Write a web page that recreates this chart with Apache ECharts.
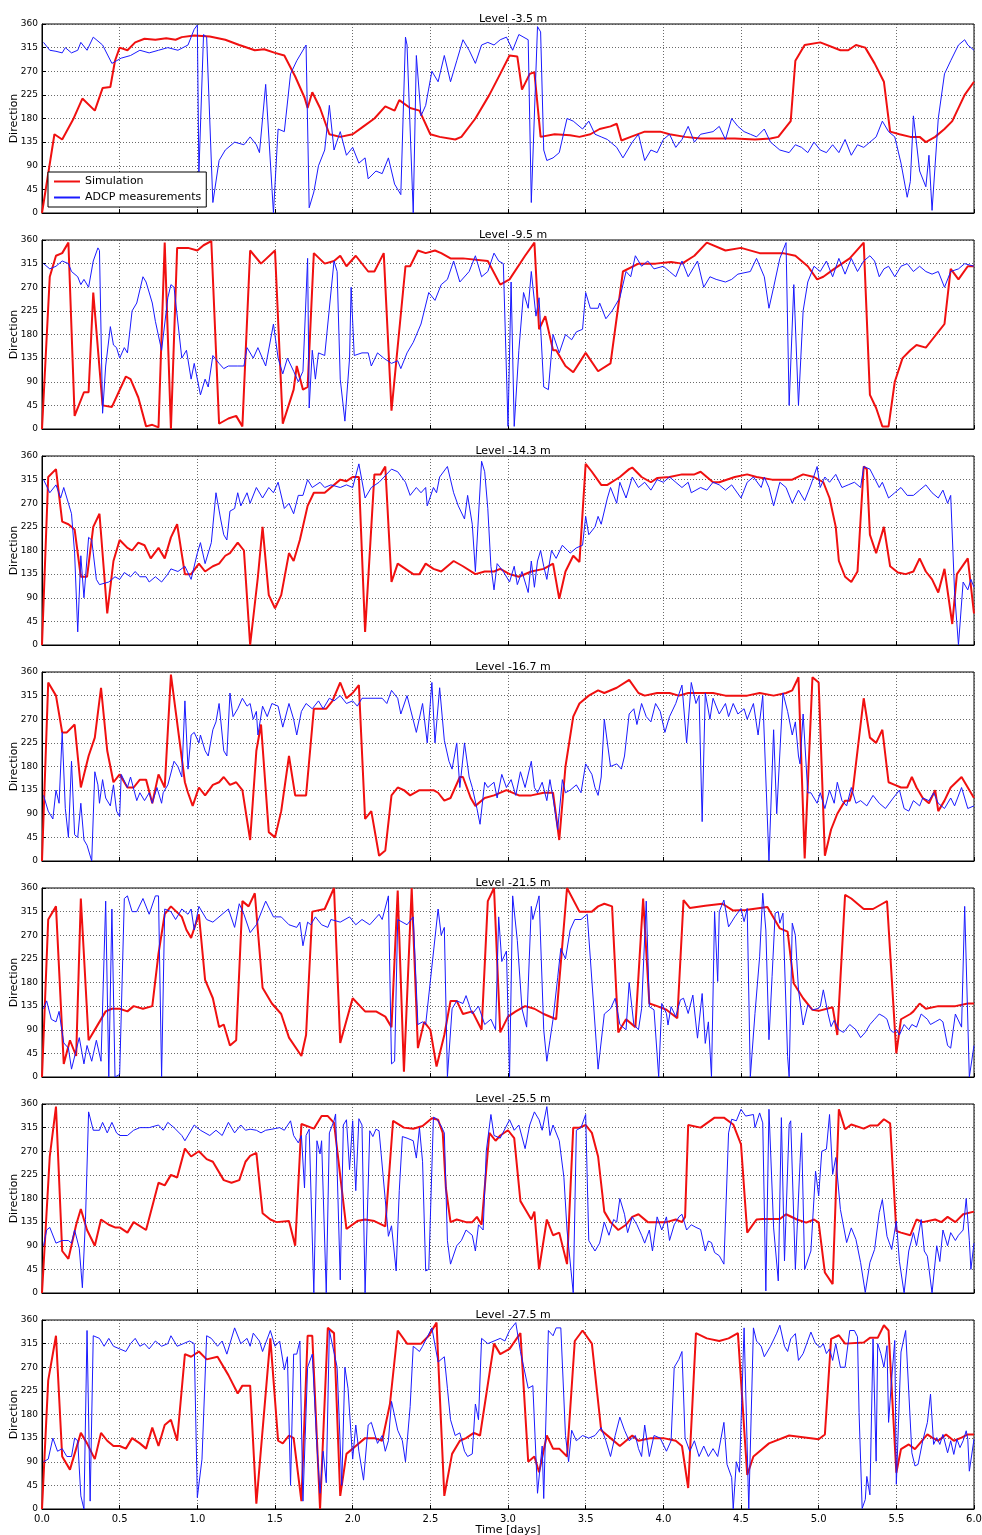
<!DOCTYPE html>
<html>
<head>
<meta charset="utf-8">
<script src="https://cdn.jsdelivr.net/npm/echarts@6/dist/echarts.min.js"></script>
<style>
  html, body { margin: 0; padding: 0; background: #fff; }
  #chart { width: 982px; height: 1535px; }
</style>
</head>
<body>
<div id="chart"></div>
<script>
// Current direction (degrees) at seven depth levels: model vs. ADCP, time in days.
const levels = ['Level -3.5 m', 'Level -9.5 m', 'Level -14.3 m', 'Level -16.7 m',
                'Level -21.5 m', 'Level -25.5 m', 'Level -27.5 m'];
const directionTicks = [0, 45, 90, 135, 180, 225, 270, 315, 360];
const timeTicks = [0, 0.5, 1, 1.5, 2, 2.5, 3, 3.5, 4, 4.5, 5, 5.5, 6];

// ---- Level -3.5 m ----
const sim35 = [[0,0],[0.08,150],[0.13,140],[0.2,178],[0.26,218],[0.34,195],[0.39,238],[0.44,240],[0.47,290],[0.5,315],[0.55,310],[0.6,325],[0.66,332],[0.73,330],[0.8,333],[0.86,330],[0.9,335],[0.98,338],[1.08,336],[1.18,330],[1.27,320],[1.37,310],[1.43,312],[1.5,305],[1.56,300],[1.63,260],[1.69,220],[1.71,200],[1.74,230],[1.79,200],[1.85,150],[1.92,145],[2.0,150],[2.07,165],[2.14,180],[2.21,203],[2.27,195],[2.3,215],[2.37,200],[2.43,195],[2.5,150],[2.56,145],[2.66,140],[2.7,145],[2.79,180],[2.88,225],[2.95,265],[3.01,300],[3.06,298],[3.09,235],[3.14,265],[3.17,268],[3.21,145],[3.3,150],[3.4,148],[3.46,145],[3.53,150],[3.59,160],[3.66,165],[3.7,170],[3.73,138],[3.79,145],[3.88,155],[3.98,155],[4.04,150],[4.14,145],[4.24,142],[4.37,142],[4.46,142],[4.59,140],[4.69,142],[4.74,145],[4.82,175],[4.85,290],[4.91,320],[5.01,325],[5.14,310],[5.19,310],[5.24,320],[5.3,315],[5.36,285],[5.42,250],[5.46,155],[5.52,150],[5.59,145],[5.65,145],[5.69,135],[5.75,145],[5.81,160],[5.86,175],[5.94,225],[6.0,250]];
const adcp35 = [[0.01,325],[0.05,310],[0.09,308],[0.13,305],[0.15,315],[0.19,305],[0.23,310],[0.25,325],[0.29,310],[0.33,335],[0.39,320],[0.45,285],[0.51,295],[0.57,300],[0.63,310],[0.69,305],[0.75,310],[0.81,315],[0.875,310],[0.94,320],[0.98,350],[1.0,358],[1.01,75],[1.04,340],[1.06,335],[1.1,20],[1.14,100],[1.18,120],[1.24,135],[1.3,130],[1.34,145],[1.38,130],[1.4,115],[1.44,245],[1.49,0],[1.52,160],[1.56,155],[1.6,265],[1.64,290],[1.7,320],[1.72,10],[1.75,40],[1.78,90],[1.82,120],[1.85,205],[1.88,120],[1.92,155],[1.96,110],[2.0,125],[2.04,95],[2.08,105],[2.1,65],[2.15,80],[2.19,75],[2.23,105],[2.27,55],[2.31,35],[2.34,335],[2.35,320],[2.39,0],[2.41,300],[2.44,185],[2.47,205],[2.51,270],[2.55,250],[2.59,300],[2.63,250],[2.67,290],[2.71,330],[2.75,310],[2.79,285],[2.83,320],[2.87,325],[2.91,320],[2.95,330],[2.99,335],[3.03,310],[3.07,340],[3.13,330],[3.15,20],[3.19,355],[3.21,345],[3.23,120],[3.25,100],[3.29,105],[3.33,115],[3.38,180],[3.42,175],[3.48,160],[3.52,175],[3.56,150],[3.6,145],[3.64,140],[3.7,125],[3.74,105],[3.8,135],[3.84,150],[3.88,100],[3.92,120],[3.96,115],[4.0,140],[4.04,150],[4.08,125],[4.12,140],[4.16,165],[4.2,135],[4.24,150],[4.32,155],[4.36,165],[4.4,140],[4.44,180],[4.48,165],[4.52,155],[4.56,150],[4.6,145],[4.65,160],[4.69,135],[4.75,120],[4.81,115],[4.85,130],[4.89,125],[4.93,115],[4.97,135],[5.01,120],[5.05,115],[5.09,130],[5.13,115],[5.17,140],[5.21,110],[5.25,130],[5.29,125],[5.33,135],[5.37,145],[5.41,175],[5.45,155],[5.49,145],[5.53,95],[5.57,30],[5.59,60],[5.61,185],[5.65,80],[5.69,50],[5.71,110],[5.73,5],[5.77,180],[5.81,265],[5.85,290],[5.9,320],[5.94,330],[5.96,320],[6.0,310]];

// ---- Level -9.5 m ----
const sim95 = [[0,0],[0.05,290],[0.09,330],[0.13,335],[0.17,355],[0.21,25],[0.27,70],[0.3,70],[0.33,260],[0.39,45],[0.45,42],[0.54,100],[0.57,95],[0.62,60],[0.67,5],[0.71,8],[0.75,3],[0.79,355],[0.83,0],[0.87,345],[0.94,345],[1.0,340],[1.04,350],[1.09,358],[1.14,10],[1.2,20],[1.25,25],[1.29,5],[1.34,340],[1.41,315],[1.5,340],[1.55,10],[1.62,75],[1.64,120],[1.68,75],[1.71,80],[1.75,335],[1.82,315],[1.88,320],[1.92,330],[1.96,310],[2.02,330],[2.1,300],[2.14,300],[2.2,335],[2.25,35],[2.34,310],[2.37,310],[2.42,340],[2.47,335],[2.53,340],[2.57,335],[2.63,325],[2.71,325],[2.87,320],[2.95,275],[3.01,285],[3.11,330],[3.17,355],[3.2,190],[3.24,215],[3.29,150],[3.31,150],[3.37,120],[3.42,108],[3.5,145],[3.58,110],[3.66,125],[3.74,300],[3.84,315],[3.95,315],[4.05,318],[4.12,315],[4.2,330],[4.28,355],[4.4,340],[4.5,345],[4.62,335],[4.77,335],[4.85,330],[4.93,310],[4.99,285],[5.03,290],[5.1,305],[5.2,325],[5.29,355],[5.33,65],[5.37,40],[5.41,5],[5.45,5],[5.49,90],[5.54,135],[5.59,150],[5.63,160],[5.69,155],[5.73,170],[5.77,185],[5.81,200],[5.85,305],[5.9,285],[5.96,310],[6.0,310]];
const adcp95 = [[0.01,315],[0.05,305],[0.09,310],[0.13,320],[0.17,315],[0.19,300],[0.23,290],[0.25,275],[0.27,285],[0.3,270],[0.33,320],[0.36,345],[0.37,340],[0.39,30],[0.41,120],[0.44,195],[0.46,160],[0.48,155],[0.5,135],[0.53,155],[0.55,145],[0.58,225],[0.61,240],[0.65,290],[0.67,280],[0.71,240],[0.73,205],[0.77,150],[0.81,250],[0.83,275],[0.85,270],[0.9,135],[0.93,150],[0.96,95],[0.98,125],[1.02,65],[1.05,95],[1.07,80],[1.1,140],[1.14,125],[1.17,115],[1.2,120],[1.26,120],[1.3,120],[1.32,155],[1.36,135],[1.39,155],[1.44,120],[1.49,200],[1.52,135],[1.55,105],[1.58,135],[1.62,110],[1.65,90],[1.68,110],[1.69,180],[1.71,325],[1.72,40],[1.74,150],[1.76,95],[1.78,145],[1.82,140],[1.88,320],[1.9,300],[1.92,95],[1.95,15],[1.98,135],[1.99,270],[2.01,140],[2.06,145],[2.1,145],[2.12,120],[2.16,145],[2.2,135],[2.25,125],[2.29,130],[2.31,115],[2.35,145],[2.39,165],[2.44,200],[2.49,260],[2.53,245],[2.57,275],[2.61,285],[2.65,320],[2.69,280],[2.75,300],[2.79,330],[2.83,290],[2.87,300],[2.91,335],[2.94,320],[2.97,315],[3.0,5],[3.02,280],[3.04,5],[3.07,150],[3.1,260],[3.13,230],[3.15,300],[3.18,215],[3.2,250],[3.23,80],[3.26,75],[3.29,180],[3.33,145],[3.37,180],[3.41,170],[3.44,185],[3.48,190],[3.5,260],[3.53,230],[3.58,230],[3.59,240],[3.63,210],[3.67,225],[3.72,250],[3.76,300],[3.79,290],[3.82,330],[3.86,310],[3.9,320],[3.94,305],[4.0,310],[4.04,300],[4.08,290],[4.12,320],[4.16,290],[4.2,310],[4.22,320],[4.26,270],[4.3,290],[4.34,285],[4.4,280],[4.44,285],[4.48,295],[4.56,300],[4.6,325],[4.65,290],[4.68,230],[4.71,270],[4.75,325],[4.79,355],[4.81,45],[4.84,275],[4.87,45],[4.9,225],[4.93,280],[4.97,310],[5.01,300],[5.05,320],[5.09,290],[5.13,325],[5.17,295],[5.21,325],[5.25,300],[5.29,320],[5.33,330],[5.36,320],[5.39,290],[5.42,305],[5.45,310],[5.49,290],[5.53,310],[5.57,315],[5.61,300],[5.65,310],[5.69,300],[5.73,295],[5.77,300],[5.81,270],[5.85,300],[5.9,305],[5.94,315],[6.0,310]];

// ---- Level -14.3 m ----
const sim143 = [[0,0],[0.04,320],[0.09,335],[0.13,235],[0.17,230],[0.21,220],[0.25,130],[0.29,130],[0.33,225],[0.37,250],[0.42,60],[0.46,160],[0.5,200],[0.55,185],[0.58,180],[0.62,195],[0.66,190],[0.7,165],[0.75,185],[0.79,165],[0.83,205],[0.87,230],[0.92,135],[0.96,135],[1.01,155],[1.05,140],[1.1,150],[1.14,155],[1.18,170],[1.21,175],[1.26,195],[1.3,180],[1.34,0],[1.39,130],[1.42,225],[1.46,95],[1.5,70],[1.54,95],[1.59,175],[1.62,160],[1.66,200],[1.71,265],[1.75,290],[1.82,290],[1.86,300],[1.92,315],[1.96,312],[2.0,320],[2.04,320],[2.08,25],[2.14,325],[2.18,325],[2.21,340],[2.25,120],[2.29,155],[2.34,145],[2.39,135],[2.43,135],[2.47,155],[2.52,145],[2.57,140],[2.65,160],[2.71,150],[2.79,135],[2.85,140],[2.91,140],[2.95,145],[3.01,135],[3.07,130],[3.15,140],[3.23,145],[3.29,155],[3.33,88],[3.37,140],[3.42,170],[3.46,158],[3.5,345],[3.54,330],[3.6,305],[3.64,305],[3.72,320],[3.78,335],[3.8,338],[3.86,320],[3.92,310],[3.96,318],[4.04,320],[4.12,325],[4.2,325],[4.24,330],[4.32,310],[4.36,310],[4.46,320],[4.54,325],[4.6,320],[4.7,315],[4.83,315],[4.9,325],[4.97,320],[5.03,310],[5.07,280],[5.11,225],[5.13,160],[5.17,130],[5.21,120],[5.25,140],[5.29,340],[5.31,335],[5.33,210],[5.37,175],[5.42,225],[5.46,150],[5.51,138],[5.56,135],[5.61,140],[5.65,165],[5.69,140],[5.73,125],[5.77,100],[5.81,145],[5.86,40],[5.89,135],[5.96,165],[6.0,60]];
const adcp143 = [[0.01,315],[0.05,290],[0.09,305],[0.12,280],[0.14,300],[0.17,270],[0.19,250],[0.21,175],[0.23,25],[0.25,170],[0.27,90],[0.3,205],[0.32,200],[0.35,125],[0.37,115],[0.43,120],[0.47,130],[0.5,125],[0.53,138],[0.57,130],[0.6,140],[0.63,130],[0.67,130],[0.69,120],[0.73,130],[0.77,120],[0.81,135],[0.83,145],[0.875,140],[0.92,150],[0.96,125],[1.0,175],[1.02,195],[1.05,155],[1.09,195],[1.12,290],[1.15,240],[1.17,210],[1.19,200],[1.21,255],[1.24,260],[1.26,290],[1.28,265],[1.32,290],[1.34,270],[1.38,300],[1.42,280],[1.46,300],[1.49,290],[1.52,310],[1.56,260],[1.59,270],[1.62,250],[1.65,285],[1.68,285],[1.71,315],[1.74,300],[1.79,310],[1.82,300],[1.86,305],[1.92,300],[1.96,305],[2.0,300],[2.04,345],[2.08,280],[2.12,300],[2.17,310],[2.25,335],[2.29,330],[2.34,310],[2.37,285],[2.41,300],[2.44,290],[2.47,300],[2.48,265],[2.52,300],[2.54,290],[2.56,320],[2.61,340],[2.65,290],[2.68,265],[2.72,240],[2.74,285],[2.77,230],[2.79,140],[2.83,350],[2.85,330],[2.87,260],[2.89,150],[2.91,105],[2.93,155],[2.97,140],[3.01,120],[3.04,150],[3.06,115],[3.09,140],[3.13,100],[3.15,160],[3.17,110],[3.19,160],[3.21,180],[3.23,150],[3.25,125],[3.28,180],[3.31,165],[3.35,190],[3.4,175],[3.44,185],[3.48,190],[3.5,245],[3.52,210],[3.56,225],[3.58,245],[3.6,230],[3.64,280],[3.66,300],[3.7,270],[3.72,310],[3.76,280],[3.8,320],[3.84,300],[3.88,310],[3.92,295],[3.96,315],[4.0,310],[4.04,320],[4.08,310],[4.12,300],[4.16,310],[4.18,290],[4.24,300],[4.28,295],[4.32,310],[4.36,305],[4.4,295],[4.44,305],[4.5,280],[4.54,310],[4.58,320],[4.63,300],[4.65,320],[4.68,300],[4.71,265],[4.75,310],[4.79,300],[4.83,270],[4.87,295],[4.91,275],[4.95,305],[4.99,340],[5.01,300],[5.04,320],[5.07,310],[5.11,325],[5.15,300],[5.19,305],[5.23,310],[5.27,300],[5.29,340],[5.33,335],[5.39,300],[5.41,310],[5.45,280],[5.49,290],[5.53,300],[5.57,285],[5.61,285],[5.65,295],[5.69,305],[5.73,290],[5.77,280],[5.8,295],[5.83,270],[5.85,285],[5.875,100],[5.9,0],[5.93,120],[5.96,105],[5.98,125],[6.0,110]];

// ---- Level -16.7 m ----
const sim167 = [[0,0],[0.04,340],[0.09,315],[0.13,245],[0.16,245],[0.21,260],[0.25,140],[0.3,200],[0.34,235],[0.38,330],[0.42,210],[0.46,150],[0.5,165],[0.55,140],[0.59,140],[0.63,155],[0.67,155],[0.71,110],[0.75,165],[0.79,140],[0.83,355],[0.92,150],[0.94,130],[0.97,105],[1.01,140],[1.05,125],[1.1,145],[1.14,150],[1.17,160],[1.21,145],[1.25,150],[1.29,135],[1.34,40],[1.38,210],[1.41,260],[1.46,55],[1.5,45],[1.54,95],[1.59,200],[1.63,125],[1.7,125],[1.75,290],[1.83,290],[1.87,305],[1.92,340],[1.96,310],[2.0,320],[2.04,335],[2.08,80],[2.12,95],[2.17,10],[2.21,20],[2.25,125],[2.29,140],[2.33,135],[2.37,125],[2.43,135],[2.47,135],[2.52,135],[2.55,130],[2.59,115],[2.63,120],[2.69,160],[2.71,160],[2.76,120],[2.79,105],[2.85,120],[2.91,125],[2.99,135],[3.07,125],[3.15,125],[3.23,130],[3.29,130],[3.33,40],[3.37,180],[3.42,275],[3.46,300],[3.52,315],[3.58,325],[3.62,320],[3.7,330],[3.78,345],[3.84,320],[3.88,315],[3.96,320],[4.04,320],[4.1,315],[4.16,320],[4.32,320],[4.4,315],[4.54,315],[4.62,320],[4.71,315],[4.79,320],[4.83,325],[4.87,350],[4.91,5],[4.96,350],[5.0,340],[5.04,10],[5.08,60],[5.12,90],[5.17,115],[5.2,115],[5.22,135],[5.29,310],[5.33,235],[5.37,225],[5.41,250],[5.45,150],[5.49,145],[5.53,140],[5.57,140],[5.6,160],[5.63,140],[5.67,120],[5.71,110],[5.75,135],[5.77,95],[5.81,115],[5.85,140],[5.92,160],[6.0,120]];
const adcp167 = [[0.01,125],[0.04,95],[0.07,80],[0.09,135],[0.11,110],[0.13,245],[0.15,100],[0.17,45],[0.19,190],[0.21,50],[0.23,45],[0.25,110],[0.27,40],[0.29,30],[0.32,0],[0.34,170],[0.36,145],[0.37,110],[0.39,155],[0.41,120],[0.44,105],[0.46,145],[0.48,95],[0.5,85],[0.51,165],[0.55,140],[0.57,160],[0.61,115],[0.63,130],[0.66,115],[0.69,130],[0.71,110],[0.74,140],[0.77,110],[0.78,130],[0.81,145],[0.85,190],[0.875,180],[0.9,160],[0.92,305],[0.94,175],[0.96,240],[0.98,245],[1.01,225],[1.02,240],[1.05,210],[1.07,200],[1.1,250],[1.12,265],[1.14,300],[1.17,210],[1.19,200],[1.21,320],[1.23,275],[1.26,290],[1.29,310],[1.32,295],[1.34,300],[1.36,270],[1.38,285],[1.39,240],[1.42,295],[1.45,275],[1.48,300],[1.52,295],[1.55,255],[1.59,300],[1.62,270],[1.64,240],[1.67,285],[1.7,300],[1.74,290],[1.78,305],[1.81,290],[1.85,310],[1.88,305],[1.92,315],[1.96,300],[2.0,305],[2.03,295],[2.06,310],[2.15,310],[2.19,310],[2.22,300],[2.25,325],[2.29,310],[2.31,280],[2.35,315],[2.41,245],[2.45,300],[2.48,225],[2.51,340],[2.53,225],[2.56,330],[2.59,230],[2.62,190],[2.64,175],[2.67,225],[2.69,140],[2.72,225],[2.75,160],[2.77,140],[2.8,100],[2.82,70],[2.85,150],[2.87,140],[2.91,150],[2.93,120],[2.96,165],[2.99,140],[3.02,155],[3.05,125],[3.08,170],[3.11,140],[3.15,190],[3.17,140],[3.19,130],[3.22,150],[3.25,115],[3.27,155],[3.29,120],[3.32,60],[3.35,155],[3.37,130],[3.4,135],[3.44,145],[3.47,130],[3.5,185],[3.54,165],[3.56,140],[3.58,125],[3.6,160],[3.62,270],[3.66,180],[3.7,185],[3.73,175],[3.75,200],[3.78,280],[3.81,290],[3.83,260],[3.86,300],[3.89,275],[3.92,265],[3.95,300],[3.98,285],[4.01,245],[4.04,275],[4.08,300],[4.12,335],[4.15,225],[4.18,340],[4.21,300],[4.23,315],[4.25,75],[4.27,320],[4.3,270],[4.32,310],[4.36,280],[4.4,300],[4.42,275],[4.45,300],[4.48,280],[4.52,290],[4.54,270],[4.58,300],[4.61,240],[4.64,315],[4.68,0],[4.71,250],[4.73,90],[4.77,320],[4.8,285],[4.83,240],[4.85,265],[4.87,200],[4.88,185],[4.9,280],[4.93,130],[4.95,130],[4.99,110],[5.01,130],[5.04,100],[5.07,135],[5.1,110],[5.12,150],[5.15,115],[5.18,105],[5.21,140],[5.24,110],[5.27,115],[5.31,105],[5.35,125],[5.39,110],[5.43,100],[5.48,120],[5.52,135],[5.55,100],[5.58,95],[5.61,115],[5.65,105],[5.67,120],[5.71,115],[5.74,130],[5.77,110],[5.81,100],[5.85,120],[5.875,105],[5.92,140],[5.96,100],[6.0,105]];

// ---- Level -21.5 m ----
const sim215 = [[0,0],[0.04,300],[0.09,325],[0.14,25],[0.18,70],[0.22,40],[0.25,340],[0.3,70],[0.35,95],[0.41,125],[0.45,130],[0.5,130],[0.55,125],[0.59,135],[0.65,130],[0.71,135],[0.75,235],[0.79,310],[0.83,325],[0.9,305],[0.93,280],[0.96,265],[1.01,310],[1.05,185],[1.1,150],[1.14,95],[1.17,100],[1.21,60],[1.25,70],[1.29,335],[1.33,325],[1.37,350],[1.42,170],[1.48,140],[1.54,120],[1.59,75],[1.67,40],[1.7,80],[1.74,315],[1.82,320],[1.88,360],[1.92,65],[2.0,150],[2.08,125],[2.15,125],[2.21,115],[2.25,95],[2.29,355],[2.33,10],[2.38,360],[2.42,55],[2.46,105],[2.5,90],[2.54,20],[2.59,80],[2.63,145],[2.67,145],[2.71,120],[2.77,125],[2.83,90],[2.87,335],[2.91,360],[2.95,85],[3.0,115],[3.05,125],[3.11,135],[3.17,130],[3.23,120],[3.31,110],[3.38,360],[3.46,315],[3.54,315],[3.58,325],[3.62,330],[3.67,325],[3.71,85],[3.76,110],[3.82,95],[3.87,340],[3.91,140],[3.96,135],[4.02,128],[4.09,112],[4.13,337],[4.17,322],[4.27,326],[4.38,330],[4.45,317],[4.53,318],[4.67,324],[4.75,283],[4.8,277],[4.84,178],[4.9,150],[4.96,128],[5.0,126],[5.09,133],[5.12,80],[5.17,347],[5.21,340],[5.29,320],[5.35,320],[5.41,330],[5.44,335],[5.5,45],[5.53,110],[5.59,120],[5.61,125],[5.65,140],[5.69,130],[5.77,135],[5.88,135],[5.96,140],[6.0,140]];
const adcp215 = [[0.01,130],[0.03,145],[0.06,110],[0.09,105],[0.11,125],[0.14,65],[0.17,55],[0.19,15],[0.24,75],[0.27,25],[0.29,60],[0.32,30],[0.35,70],[0.38,30],[0.41,335],[0.43,0],[0.45,320],[0.47,0],[0.5,5],[0.53,340],[0.55,345],[0.58,315],[0.61,315],[0.65,340],[0.69,310],[0.73,345],[0.75,345],[0.77,0],[0.79,320],[0.83,315],[0.86,300],[0.9,320],[0.94,310],[0.96,320],[0.98,280],[1.01,325],[1.06,300],[1.1,295],[1.16,310],[1.2,320],[1.24,285],[1.27,330],[1.3,310],[1.34,275],[1.38,290],[1.44,335],[1.49,305],[1.54,305],[1.59,290],[1.64,285],[1.66,295],[1.68,250],[1.71,295],[1.73,290],[1.76,305],[1.8,290],[1.84,285],[1.86,300],[1.92,295],[1.98,305],[2.02,290],[2.06,300],[2.11,290],[2.17,310],[2.19,300],[2.23,345],[2.25,25],[2.27,30],[2.29,300],[2.35,290],[2.39,305],[2.42,100],[2.45,105],[2.47,100],[2.55,320],[2.57,270],[2.59,285],[2.61,0],[2.64,130],[2.67,145],[2.71,140],[2.73,155],[2.77,120],[2.81,135],[2.85,100],[2.89,110],[2.92,90],[2.94,305],[2.96,220],[2.99,240],[3.01,0],[3.03,345],[3.06,260],[3.09,130],[3.12,95],[3.15,325],[3.16,300],[3.2,345],[3.23,90],[3.25,30],[3.27,70],[3.29,110],[3.32,190],[3.34,245],[3.37,225],[3.4,280],[3.43,300],[3.47,300],[3.51,310],[3.58,15],[3.62,120],[3.66,130],[3.69,150],[3.72,100],[3.76,90],[3.78,180],[3.81,100],[3.84,90],[3.86,130],[3.89,335],[3.91,134],[3.94,128],[3.97,0],[3.99,140],[4.02,121],[4.03,99],[4.05,134],[4.08,115],[4.11,147],[4.13,150],[4.16,121],[4.19,156],[4.22,74],[4.25,159],[4.27,64],[4.29,105],[4.31,0],[4.33,315],[4.35,182],[4.36,315],[4.39,337],[4.42,286],[4.46,305],[4.5,321],[4.52,296],[4.54,321],[4.56,0],[4.59,121],[4.62,229],[4.64,350],[4.66,280],[4.68,71],[4.7,191],[4.72,312],[4.74,315],[4.75,293],[4.77,312],[4.8,39],[4.81,0],[4.83,293],[4.85,270],[4.87,166],[4.9,99],[4.93,137],[4.96,128],[4.99,130],[5.01,134],[5.03,166],[5.06,121],[5.08,96],[5.1,108],[5.13,90],[5.16,85],[5.2,100],[5.24,90],[5.27,75],[5.3,85],[5.33,100],[5.36,110],[5.39,120],[5.42,115],[5.44,110],[5.46,90],[5.48,85],[5.5,90],[5.52,80],[5.55,100],[5.58,90],[5.6,100],[5.63,95],[5.66,120],[5.7,110],[5.72,100],[5.75,105],[5.78,110],[5.8,105],[5.83,60],[5.85,55],[5.88,120],[5.92,95],[5.94,325],[5.97,0],[6.0,60]];

// ---- Level -25.5 m ----
const sim255 = [[0,0],[0.05,260],[0.09,355],[0.13,80],[0.17,65],[0.22,130],[0.25,160],[0.29,120],[0.34,90],[0.38,140],[0.43,130],[0.47,125],[0.5,125],[0.55,115],[0.59,135],[0.67,120],[0.75,210],[0.79,205],[0.83,225],[0.87,220],[0.92,275],[0.96,260],[1.01,270],[1.06,255],[1.1,250],[1.17,215],[1.22,210],[1.27,215],[1.31,250],[1.34,261],[1.38,267],[1.42,152],[1.47,140],[1.51,135],[1.59,137],[1.63,90],[1.67,322],[1.75,313],[1.8,337],[1.84,337],[1.88,324],[1.92,223],[1.96,122],[2.03,137],[2.08,140],[2.14,137],[2.21,127],[2.26,328],[2.33,315],[2.39,313],[2.45,318],[2.51,333],[2.55,330],[2.58,305],[2.6,200],[2.63,135],[2.67,140],[2.73,135],[2.77,135],[2.8,145],[2.83,130],[2.88,305],[2.92,290],[2.95,300],[3.0,310],[3.04,295],[3.08,175],[3.11,160],[3.15,140],[3.17,155],[3.2,45],[3.25,140],[3.29,110],[3.33,115],[3.38,55],[3.42,315],[3.46,315],[3.5,320],[3.54,305],[3.58,260],[3.62,155],[3.66,135],[3.71,120],[3.76,130],[3.8,145],[3.84,150],[3.9,135],[3.96,135],[4.02,135],[4.08,140],[4.12,135],[4.14,145],[4.16,320],[4.24,315],[4.33,334],[4.39,334],[4.45,321],[4.5,283],[4.54,115],[4.6,140],[4.64,141],[4.75,141],[4.79,150],[4.86,140],[4.92,134],[4.97,140],[5.0,134],[5.04,39],[5.09,17],[5.13,350],[5.17,312],[5.21,321],[5.29,313],[5.33,319],[5.38,319],[5.42,331],[5.46,323],[5.5,118],[5.53,115],[5.59,110],[5.63,140],[5.67,135],[5.75,140],[5.79,135],[5.83,145],[5.88,135],[5.93,150],[6.0,155]];
const adcp255 = [[0.01,90],[0.03,120],[0.05,125],[0.09,95],[0.13,100],[0.17,100],[0.19,95],[0.21,120],[0.24,85],[0.26,10],[0.28,140],[0.3,345],[0.33,310],[0.37,310],[0.39,325],[0.42,305],[0.45,325],[0.48,305],[0.5,300],[0.55,300],[0.59,310],[0.63,315],[0.69,315],[0.75,320],[0.78,310],[0.81,325],[0.85,315],[0.9,300],[0.92,290],[0.98,320],[1.02,310],[1.08,300],[1.12,310],[1.16,300],[1.2,325],[1.24,305],[1.28,320],[1.31,310],[1.34,312],[1.38,310],[1.41,305],[1.44,310],[1.48,312],[1.53,315],[1.56,310],[1.6,328],[1.62,300],[1.65,286],[1.67,300],[1.69,200],[1.7,300],[1.72,312],[1.75,0],[1.77,290],[1.79,265],[1.8,290],[1.83,0],[1.85,305],[1.88,328],[1.89,341],[1.92,25],[1.94,320],[1.96,330],[1.98,235],[2.0,328],[2.02,195],[2.04,332],[2.06,320],[2.08,0],[2.11,309],[2.13,298],[2.15,312],[2.17,309],[2.21,177],[2.23,108],[2.25,128],[2.28,42],[2.3,195],[2.32,298],[2.35,295],[2.39,290],[2.41,257],[2.43,315],[2.45,250],[2.47,42],[2.49,45],[2.52,335],[2.54,332],[2.57,318],[2.59,305],[2.61,100],[2.63,55],[2.67,90],[2.7,100],[2.73,120],[2.77,110],[2.79,80],[2.81,130],[2.84,120],[2.86,270],[2.89,340],[2.91,300],[2.95,295],[3.01,330],[3.04,310],[3.07,320],[3.11,275],[3.14,320],[3.17,345],[3.2,330],[3.22,310],[3.25,355],[3.27,300],[3.29,320],[3.33,290],[3.36,220],[3.38,120],[3.42,0],[3.44,310],[3.47,315],[3.5,340],[3.52,100],[3.56,80],[3.59,95],[3.62,135],[3.65,110],[3.68,140],[3.7,135],[3.72,180],[3.75,150],[3.77,115],[3.8,145],[3.83,130],[3.86,110],[3.88,95],[3.91,120],[3.93,80],[3.96,145],[3.99,120],[4.02,145],[4.04,100],[4.07,130],[4.1,145],[4.12,150],[4.15,120],[4.18,130],[4.21,125],[4.24,121],[4.27,80],[4.29,99],[4.31,96],[4.33,77],[4.36,71],[4.39,55],[4.42,305],[4.44,331],[4.47,328],[4.5,350],[4.53,337],[4.58,340],[4.59,315],[4.62,343],[4.64,324],[4.66,4],[4.68,350],[4.71,124],[4.74,23],[4.76,334],[4.78,61],[4.81,321],[4.82,328],[4.85,45],[4.88,248],[4.89,305],[4.91,45],[4.95,80],[4.98,232],[5.0,185],[5.02,270],[5.05,274],[5.07,340],[5.09,226],[5.11,258],[5.14,159],[5.18,96],[5.21,124],[5.24,102],[5.27,58],[5.3,1],[5.33,58],[5.36,83],[5.39,153],[5.41,178],[5.44,108],[5.47,83],[5.5,137],[5.52,60],[5.55,0],[5.58,80],[5.61,115],[5.63,90],[5.66,140],[5.68,80],[5.7,70],[5.73,0],[5.76,90],[5.78,60],[5.8,120],[5.83,90],[5.85,115],[5.88,100],[5.9,110],[5.93,120],[5.95,180],[5.97,100],[5.98,45],[6.0,95]];

// ---- Level -27.5 m ----
const sim275 = [[0,0],[0.04,245],[0.09,330],[0.13,100],[0.18,75],[0.22,115],[0.25,145],[0.29,125],[0.34,95],[0.38,145],[0.42,130],[0.46,120],[0.5,120],[0.54,115],[0.58,135],[0.63,125],[0.67,115],[0.71,155],[0.75,120],[0.79,160],[0.83,170],[0.87,130],[0.92,295],[0.96,290],[1.01,300],[1.06,285],[1.13,290],[1.2,255],[1.26,220],[1.29,235],[1.34,235],[1.38,10],[1.47,325],[1.52,130],[1.55,125],[1.59,140],[1.62,135],[1.67,15],[1.71,330],[1.74,330],[1.79,0],[1.84,345],[1.88,335],[1.92,25],[1.96,105],[2.02,120],[2.08,135],[2.14,135],[2.19,130],[2.24,200],[2.29,340],[2.35,315],[2.44,315],[2.49,330],[2.54,355],[2.59,25],[2.64,105],[2.69,130],[2.73,135],[2.78,145],[2.82,140],[2.91,315],[2.95,295],[3.01,305],[3.08,335],[3.13,90],[3.17,100],[3.2,70],[3.25,140],[3.29,115],[3.33,115],[3.38,100],[3.43,320],[3.48,340],[3.54,315],[3.6,150],[3.66,135],[3.72,120],[3.76,130],[3.8,140],[3.84,130],[3.92,135],[4.0,135],[4.08,130],[4.12,120],[4.16,40],[4.21,335],[4.28,325],[4.36,320],[4.42,325],[4.48,335],[4.54,65],[4.58,100],[4.62,110],[4.68,125],[4.81,140],[5.0,133],[5.04,142],[5.08,324],[5.13,331],[5.17,315],[5.29,317],[5.33,326],[5.38,326],[5.42,350],[5.45,340],[5.5,69],[5.53,114],[5.58,123],[5.62,114],[5.7,142],[5.73,136],[5.77,130],[5.82,142],[5.87,130],[5.92,136],[5.96,142],[6.0,142]];
const adcp275 = [[0.01,90],[0.04,95],[0.07,135],[0.1,110],[0.13,115],[0.16,100],[0.19,100],[0.21,135],[0.23,130],[0.25,25],[0.27,0],[0.29,340],[0.31,15],[0.33,330],[0.37,325],[0.4,310],[0.43,325],[0.46,310],[0.5,305],[0.54,300],[0.57,315],[0.6,325],[0.63,310],[0.66,315],[0.69,305],[0.73,320],[0.77,310],[0.81,315],[0.83,330],[0.87,310],[0.91,315],[0.95,320],[0.98,315],[1.0,22],[1.03,95],[1.06,330],[1.09,325],[1.13,310],[1.16,320],[1.19,295],[1.24,345],[1.28,315],[1.32,325],[1.34,310],[1.36,335],[1.4,320],[1.42,300],[1.47,340],[1.5,310],[1.53,320],[1.56,265],[1.58,290],[1.6,45],[1.62,295],[1.64,295],[1.66,320],[1.68,15],[1.71,270],[1.74,295],[1.77,120],[1.79,30],[1.81,110],[1.83,50],[1.85,340],[1.9,270],[1.93,45],[1.95,270],[1.97,230],[2.0,95],[2.02,160],[2.04,110],[2.07,55],[2.1,160],[2.12,165],[2.16,125],[2.19,140],[2.21,110],[2.23,130],[2.25,205],[2.29,150],[2.32,130],[2.34,90],[2.37,195],[2.39,310],[2.43,300],[2.45,310],[2.51,345],[2.55,280],[2.59,290],[2.61,230],[2.63,170],[2.66,140],[2.69,145],[2.72,110],[2.74,100],[2.77,105],[2.79,200],[2.81,170],[2.83,325],[2.87,315],[2.91,320],[2.95,325],[2.98,320],[3.01,340],[3.05,355],[3.08,300],[3.13,230],[3.16,235],[3.19,30],[3.22,120],[3.23,20],[3.26,340],[3.29,330],[3.31,345],[3.34,345],[3.37,140],[3.39,90],[3.41,150],[3.44,130],[3.48,140],[3.52,135],[3.56,140],[3.6,155],[3.63,130],[3.66,100],[3.69,140],[3.72,175],[3.75,150],[3.78,130],[3.82,140],[3.84,115],[3.86,100],[3.88,160],[3.91,100],[3.94,140],[3.98,135],[4.02,110],[4.05,130],[4.07,270],[4.1,285],[4.12,300],[4.14,135],[4.17,110],[4.2,130],[4.23,100],[4.26,120],[4.29,100],[4.32,115],[4.35,100],[4.39,165],[4.41,85],[4.44,60],[4.45,0],[4.47,90],[4.49,70],[4.52,345],[4.55,0],[4.58,345],[4.6,320],[4.63,310],[4.65,290],[4.69,310],[4.73,335],[4.75,350],[4.78,310],[4.8,300],[4.82,324],[4.85,334],[4.87,283],[4.9,296],[4.95,337],[4.98,315],[5.01,308],[5.03,315],[5.05,296],[5.07,305],[5.09,283],[5.11,315],[5.14,270],[5.17,270],[5.2,340],[5.23,340],[5.25,328],[5.26,184],[5.28,1],[5.3,18],[5.31,62],[5.33,27],[5.35,324],[5.37,91],[5.38,315],[5.4,296],[5.42,270],[5.44,311],[5.45,165],[5.47,248],[5.49,321],[5.5,47],[5.53,299],[5.56,340],[5.57,343],[5.6,107],[5.62,82],[5.64,85],[5.67,130],[5.7,165],[5.72,219],[5.74,123],[5.76,136],[5.78,123],[5.8,142],[5.83,107],[5.85,130],[5.87,104],[5.89,133],[5.91,117],[5.93,130],[5.95,149],[5.96,133],[5.97,72],[6.0,133]];

const simulation = [sim35, sim95, sim143, sim167, sim215, sim255, sim275];
const measured = [adcp35, adcp95, adcp143, adcp167, adcp215, adcp255, adcp275];

const FONT = 'DejaVu Sans';
const PLOT_LEFT = 42, PLOT_RIGHT = 8, PLOT_H = 189, FIRST_TOP = 24, STEP = 216;

const grids = [], xAxes = [], yAxes = [], series = [], titles = [];
levels.forEach((name, i) => {
  const top = FIRST_TOP + i * STEP;
  const last = i === levels.length - 1;
  grids.push({ left: PLOT_LEFT, right: PLOT_RIGHT, top: top, height: PLOT_H,
               containLabel: false, outerBoundsMode: 'none',
               show: true, borderColor: '#000', borderWidth: 1, backgroundColor: '#fff' });
  titles.push({ text: name, left: PLOT_LEFT + (982 - PLOT_LEFT - PLOT_RIGHT) / 2, top: top - 15,
                textAlign: 'center',
                textStyle: { fontFamily: FONT, fontSize: 11, fontWeight: 'normal', color: '#000' } });
  xAxes.push({
    type: 'value', gridIndex: i, min: timeTicks[0], max: timeTicks[timeTicks.length - 1], interval: 0.5,
    axisLine: { show: true, onZero: false, lineStyle: { color: '#000', width: 1 } },
    axisTick: { show: true, inside: true, length: 4, lineStyle: { color: '#000' } },
    axisLabel: { show: last, fontFamily: FONT, fontSize: 10, color: '#000', margin: 5,
                 formatter: v => v.toFixed(1) },
    splitLine: { show: true, lineStyle: { color: '#444', type: [1, 2], width: 0.8 } },
    name: last ? 'Time [days]' : '', nameLocation: 'middle', nameGap: 16, nameMoveOverlap: false,
    nameTextStyle: { fontFamily: FONT, fontSize: 11, color: '#000', verticalAlign: 'top' }
  });
  yAxes.push({
    type: 'value', gridIndex: i, min: directionTicks[0], max: directionTicks[directionTicks.length - 1], interval: 45,
    axisLine: { show: true, lineStyle: { color: '#000', width: 1 } },
    axisTick: { show: true, inside: true, length: 4, lineStyle: { color: '#000' } },
    axisLabel: { fontFamily: FONT, fontSize: 9, color: '#000', margin: 4 },
    splitLine: { show: true, lineStyle: { color: '#444', type: [1, 2], width: 0.8 } },
    name: 'Direction', nameLocation: 'middle', nameGap: 22, nameRotate: 90, nameMoveOverlap: false,
    nameTextStyle: { fontFamily: FONT, fontSize: 11, color: '#000' }
  });
  series.push({
    name: 'Simulation', type: 'line', xAxisIndex: i, yAxisIndex: i, data: simulation[i],
    showSymbol: false, symbol: 'none', animation: false, z: 2,
    lineStyle: { color: '#f01010', width: 2 }, itemStyle: { color: '#f01010' }
  });
  series.push({
    name: 'ADCP measurements', type: 'line', xAxisIndex: i, yAxisIndex: i, data: measured[i],
    showSymbol: false, symbol: 'none', animation: false, z: 3,
    lineStyle: { color: '#1a1aff', width: 1 }, itemStyle: { color: '#1a1aff' }
  });
});

const chart = echarts.init(document.getElementById('chart'), null, { renderer: 'canvas' });
chart.setOption({
  animation: false,
  backgroundColor: '#fff',
  title: titles,
  grid: grids,
  xAxis: xAxes,
  yAxis: yAxes,
  legend: {
    data: ['Simulation', 'ADCP measurements'],
    orient: 'vertical', left: 48, top: 172, z: 10,
    backgroundColor: '#fff', borderColor: '#000', borderWidth: 1, borderRadius: 0,
    padding: [4, 5, 4, 6], itemGap: 5, itemWidth: 26, itemHeight: 2, icon: 'rect',
    textStyle: { fontFamily: FONT, fontSize: 11, color: '#000' }
  },
  series: series
});
</script>
</body>
</html>
